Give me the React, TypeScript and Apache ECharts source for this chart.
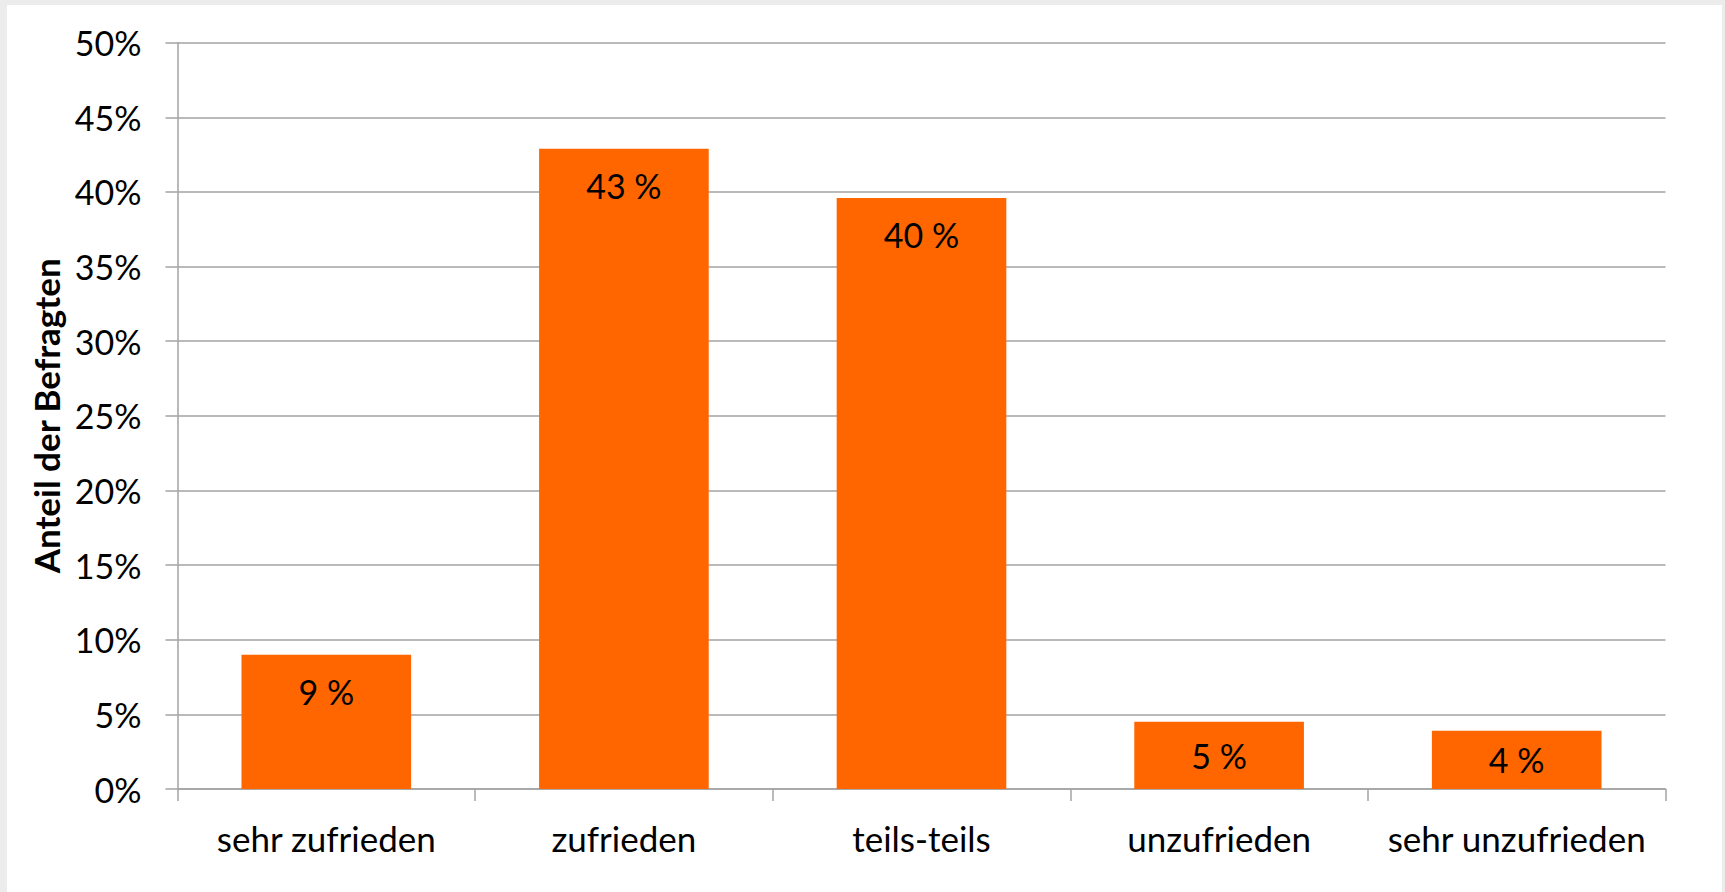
import React, { useEffect, useRef } from "react";
import * as echarts from "echarts";

const categories = ["sehr zufrieden", "zufrieden", "teils-teils", "unzufrieden", "sehr unzufrieden"];
const shares = [9.0, 42.9, 39.6, 4.5, 3.9];
const valueLabels = ["9 %", "43 %", "40 %", "5 %", "4 %"];
const yAxisName = "Anteil der Befragten";
const yMax = 50;
const yStep = 5;

const FONT = "Lato";
const GRID_COLOR = "#a3a3a3";
const BAR_COLOR = "#ff6600";

export default function App() {
  const ref = useRef<HTMLDivElement>(null);

  useEffect(() => {
    if (!ref.current) return;
    const chart = echarts.init(ref.current, undefined, { renderer: "svg" });
    const data = shares.map((v, i) => ({
      value: v,
      label: {
        show: true,
        position: v < 6 ? "inside" : "insideTop",
        distance: 20,
        formatter: () => valueLabels[i],
        color: "#000",
        fontFamily: FONT,
        fontSize: 34,
        lineHeight: 34,
      },
    }));
    chart.setOption({
      animation: false,
      backgroundColor: "#ffffff",
      grid: { left: 170.5, top: 37.7, right: 56.5, bottom: 103, containLabel: false },
      xAxis: {
        type: "category",
        data: categories,
        axisLine: { show: true, lineStyle: { color: GRID_COLOR, width: 1.5 } },
        axisTick: { show: true, length: 12, alignWithLabel: false, lineStyle: { color: GRID_COLOR, width: 1.5 } },
        axisLabel: { color: "#000", fontFamily: FONT, fontSize: 35, margin: 31, interval: 0 },
        splitLine: { show: false },
      },
      yAxis: {
        type: "value",
        min: 0,
        max: yMax,
        interval: yStep,
        name: yAxisName,
        nameLocation: "middle",
        nameRotate: 90,
        nameGap: 113,
        nameTextStyle: { color: "#000", fontFamily: FONT, fontSize: 35, fontWeight: "bold" },
        axisLine: { show: true, lineStyle: { color: GRID_COLOR, width: 1.5 } },
        axisTick: { show: true, length: 12, inside: false, lineStyle: { color: GRID_COLOR, width: 1.5 } },
        axisLabel: { color: "#000", fontFamily: FONT, fontSize: 34, margin: 36, formatter: "{value}%" },
        splitLine: { show: true, lineStyle: { color: GRID_COLOR, width: 1.5 } },
      },
      series: [
        {
          type: "bar",
          data,
          barWidth: "57%",
          itemStyle: { color: BAR_COLOR },
        },
      ],
    });
    return () => chart.dispose();
  }, []);

  return (
    <div style={{ position: "fixed", left: 0, top: 0, width: 1725, height: 892, background: "#ececec" }}>
      <div
        ref={ref}
        style={{ position: "absolute", left: 7, top: 5, width: 1715, height: 887, background: "#ffffff" }}
      />
    </div>
  );
}
